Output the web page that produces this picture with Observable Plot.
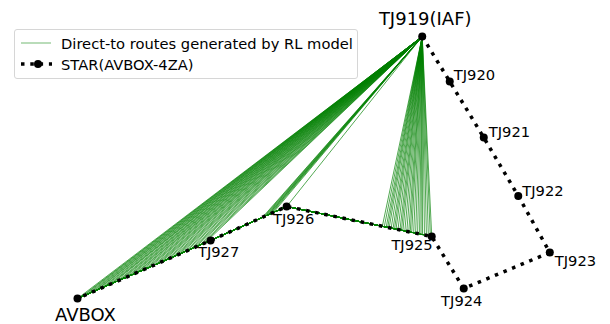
<!DOCTYPE html>
<html>
<head>
<meta charset="utf-8">
<script src="https://cdn.jsdelivr.net/npm/d3@7"></script>
<script src="https://cdn.jsdelivr.net/npm/@observablehq/plot@0.6"></script>
<style>
  html, body { margin: 0; padding: 0; background: #fff; }
  #wrap { position: relative; width: 610px; height: 324px; font-family: "DejaVu Sans", sans-serif; }
  #legend { position: absolute; left: 14px; top: 29px; width: 342px; height: 48px;
            border: 1px solid #d6d6d6; border-radius: 3px; background: rgba(255,255,255,0.85);
            font-size: 14.7px; color: #000; }
  .row { position: absolute; left: 0; height: 20px; display: flex; align-items: center; }
  .row svg { position: absolute; left: 5px; }
  .row span { position: absolute; left: 46px; white-space: nowrap; }
</style>
</head>
<body>
<div id="wrap">
  <div id="chart"></div>
  <div id="legend">
    <div class="row" style="top:3px">
      <svg width="32" height="20"><line x1="1" x2="31" y1="10" y2="10" stroke="green" stroke-opacity="0.55" stroke-width="1"/></svg>
      <span>Direct-to routes generated by RL model</span>
    </div>
    <div class="row" style="top:24px">
      <svg width="32" height="20"><line x1="0" x2="32" y1="10" y2="10" stroke="#000" stroke-width="3.5" stroke-dasharray="3.5,5.8" stroke-dashoffset="-1"/><circle cx="18" cy="10" r="4" fill="#000"/></svg>
      <span>STAR(AVBOX-4ZA)</span>
    </div>
  </div>
</div>
<script>
// STAR waypoints (relative coordinates, nm-like units), in flight order
const waypointNames = ["TJ919(IAF)", "TJ920", "TJ921", "TJ922", "TJ923", "TJ924", "TJ925", "TJ926", "TJ927", "AVBOX"];
const waypointX = [34.45, 37.2, 40.6, 44.05, 47.2, 38.6, 35.4, 20.9, 13.3, 0.0];
const waypointY = [26.2, 21.7, 16.1, 10.25, 4.6, 1.0, 6.2, 9.2, 5.8, 0.0];

// Direct-to points generated by the RL model, as along-track distance from AVBOX
// (AVBOX -> TJ927 -> TJ926 -> TJ925)
const directToAlongTrack = [
  0.0, 0.35, 0.6, 0.95, 1.3, 1.6, 1.95, 2.2, 2.6, 2.9, 3.3, 3.6, 3.85, 4.3, 4.6, 4.9,
  5.3, 5.6, 5.9, 6.3, 6.55, 6.9, 7.3, 7.6, 7.9, 8.3, 8.6, 8.9, 9.2, 9.6, 9.9, 10.3,
  10.6, 10.9, 11.2, 11.6, 11.9, 12.3, 12.6, 12.9, 13.3, 13.6, 13.9,
  20.2, 20.35, 20.5, 20.65, 20.8, 20.9, 21.05, 21.2, 21.4,
  22.84,
  32.6, 32.8, 33.0, 33.15, 33.3, 33.5, 33.7, 33.85, 34.0, 34.2, 34.4, 34.55, 34.7, 34.9,
  35.1, 35.3, 35.45, 35.6, 35.8, 36.0, 36.2, 36.4, 36.55, 36.7, 36.9, 37.1, 37.3, 37.5, 37.65
];

const waypoints = waypointNames.map((name, i) => ({name, x: waypointX[i], y: waypointY[i]}));
const byName = Object.fromEntries(waypoints.map(d => [d.name, d]));
const iaf = byName["TJ919(IAF)"];
// route leg used by the direct-to routes, starting at AVBOX
const leg = ["AVBOX", "TJ927", "TJ926", "TJ925"].map(n => byName[n]);

function routeTo(dist) {
  const pts = [leg[0]];
  let rem = dist;
  for (let i = 1; i < leg.length; i++) {
    const a = leg[i - 1], b = leg[i];
    const len = Math.hypot(b.x - a.x, b.y - a.y);
    if (rem <= len || i === leg.length - 1) {
      const t = Math.min(1, rem / len);
      pts.push({x: a.x + t * (b.x - a.x), y: a.y + t * (b.y - a.y)});
      break;
    }
    pts.push(b);
    rem -= len;
  }
  pts.push(iaf);
  return pts;
}

const greenRows = [];
directToAlongTrack.forEach((d, k) => {
  routeTo(d).forEach(p => greenRows.push({id: k, x: p.x, y: p.y}));
});

const labelStyle = {
  "TJ919(IAF)": {anchor: "middle", dx: 3, dy: -17, size: 18},
  "AVBOX": {anchor: "middle", dx: 8, dy: 17, size: 18},
  "TJ920": {anchor: "start", dx: 4, dy: -6, size: 14.7},
  "TJ921": {anchor: "start", dx: 5, dy: -5, size: 14.7},
  "TJ922": {anchor: "start", dx: 4, dy: -5, size: 14.7},
  "TJ923": {anchor: "start", dx: 5, dy: 9, size: 14.7},
  "TJ924": {anchor: "middle", dx: -2, dy: 13, size: 14.7},
  "TJ925": {anchor: "end", dx: 1, dy: 9, size: 14.7},
  "TJ926": {anchor: "middle", dx: 7, dy: 13, size: 14.7},
  "TJ927": {anchor: "middle", dx: 8, dy: 12, size: 14.7}
};

const labelMarks = waypoints.map(w => {
  const s = labelStyle[w.name];
  return Plot.text([w], {x: "x", y: "y", text: "name", textAnchor: s.anchor, dx: s.dx, dy: s.dy,
    fontSize: s.size, fill: "#000"});
});

const chart = Plot.plot({
  width: 610,
  height: 324,
  margin: 0,
  style: {fontFamily: "DejaVu Sans, sans-serif", background: "#fff", overflow: "visible"},
  x: {domain: [0, 47.2], range: [77, 549.3], axis: null},
  y: {domain: [0, 26.2], range: [298, 36], axis: null},
  marks: [
    Plot.line(greenRows, {x: "x", y: "y", z: "id", stroke: "green", strokeWidth: 0.8, strokeOpacity: 0.85, curve: "linear"}),
    Plot.line(waypoints, {x: "x", y: "y", stroke: "#000", strokeWidth: 3.5, strokeDasharray: "3.5,5.8", strokeLinecap: "butt"}),
    Plot.dot(waypoints, {x: "x", y: "y", r: 4, fill: "#000", stroke: "none"}),
    ...labelMarks
  ]
});
document.getElementById("chart").appendChild(chart);
</script>
</body>
</html>
